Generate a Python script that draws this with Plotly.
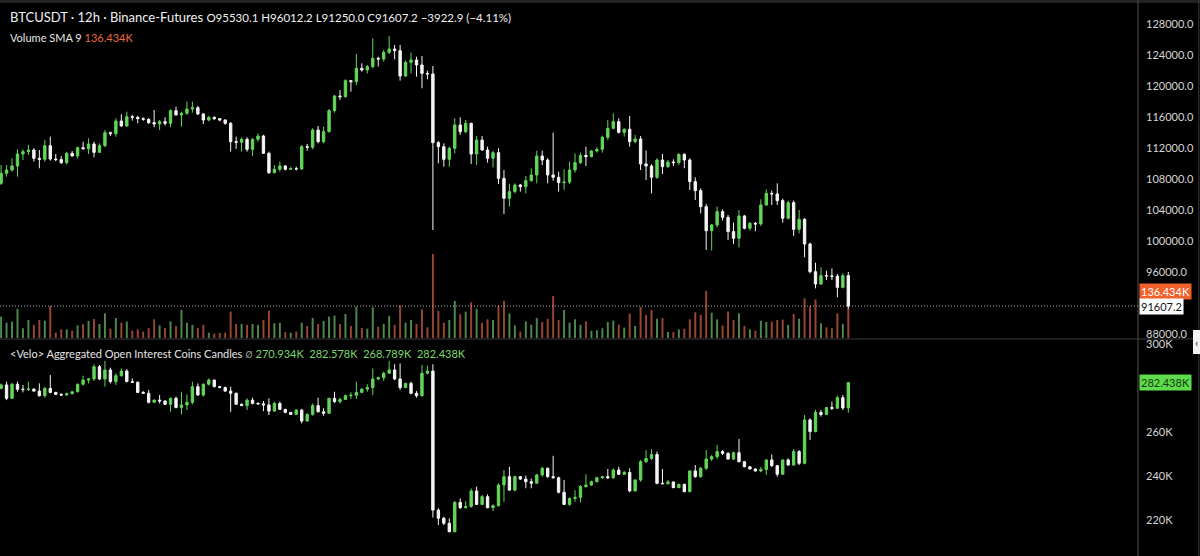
import plotly.graph_objects as go

# BTCUSDT 12h candles (open of each bar = previous close)
first_open = 107440
close = [
    108730, 109160, 109680, 111230, 111530, 111740, 110670, 110540, 112300, 110580,
    110500, 110110, 111310, 110970, 112040, 111900, 112520, 111440, 112300, 113980,
    113850, 115480, 114840, 116040, 115950, 115790, 115700, 115270, 115100, 115400,
    115180, 116820, 116260, 116470, 117030, 117200, 116390, 115610, 115960, 115790,
    115610, 115180, 112820, 112730, 113120, 111830, 113120, 113550, 111310, 108820,
    109250, 109680, 109250, 109340, 109300, 112170, 112090, 114320, 112820, 114110,
    116820, 118710, 118620, 120690, 120560, 122280, 122070, 122500, 123570, 123480,
    124340, 124770, 124560, 121290, 123050, 123360, 122710, 121630, 121550, 112690,
    112170, 110540, 111960, 114970, 114110, 115180, 111230, 113030, 111740, 110670,
    111400, 108090, 105510, 106370, 107230, 107010, 107790, 108520, 110970, 110450,
    108520, 108220, 107530, 107600, 109160, 110110, 111050, 110880, 111610, 111830,
    113380, 114540, 115400, 114020, 114410, 112820, 113160, 109940, 109680, 108220,
    110450, 109590, 110190, 110110, 111180, 110450, 107660, 106500, 104430, 101330,
    102070, 103790, 103050, 101210, 100350, 103230, 101640, 102280, 102200, 104650,
    106150, 106070, 105210, 102930, 104950, 101510, 102800, 99610, 96040, 94450,
    95530, 95500, 95450, 94020, 95530.1, 91607.2,
]
high = [
    109810, 109810, 110670, 111830, 111830, 112390, 111960, 111740, 113030, 113460,
    111230, 110970, 111500, 111610, 112170, 112820, 113250, 112820, 112600, 114320,
    114110, 115830, 116350, 116690, 116260, 116130, 115950, 115830, 116900, 115610,
    115960, 116990, 117330, 116690, 117980, 117980, 117420, 116480, 116130, 116050,
    115870, 115700, 115350, 113460, 113380, 113380, 113250, 113890, 113700, 111530,
    109810, 110240, 109800, 109590, 109590, 112390, 112520, 114540, 114840, 114750,
    117030, 118840, 119480, 120860, 120780, 124130, 122930, 122710, 126150, 123790,
    124640, 126450, 125290, 125290, 123270, 124300, 123790, 123870, 121980, 122580,
    112900, 112600, 112170, 115830, 115960, 115610, 115270, 113550, 113550, 112170,
    111660, 111960, 109160, 107360, 107440, 107360, 108390, 109380, 111660, 111660,
    110670, 113980, 108950, 109240, 110240, 111310, 111400, 112170, 111740, 112100,
    113600, 115610, 116470, 115830, 114540, 116130, 113680, 113550, 111660, 109900,
    110670, 111230, 110450, 110540, 111310, 111310, 110670, 108220, 106800, 104780,
    102200, 104430, 104090, 103360, 102370, 104000, 103360, 102460, 102450, 105380,
    106670, 106500, 107440, 105460, 105210, 105210, 104000, 102940, 99790, 97200,
    96600, 96170, 96470, 95750, 95830, 96012.2,
]
low = [
    107230, 108300, 108950, 108300, 110450, 111100, 110240, 109380, 110240, 110370,
    110300, 109940, 109900, 110900, 110670, 111830, 111230, 110800, 111400, 112090,
    113550, 113460, 114750, 114750, 115530, 115180, 115500, 115100, 114670, 114320,
    114880, 114670, 116220, 114750, 116260, 116560, 116260, 115100, 115440, 115600,
    115450, 115000, 111530, 111870, 111530, 111530, 110970, 112820, 111230, 108650,
    108700, 108950, 109100, 109200, 109100, 109160, 111650, 111830, 112600, 112600,
    113980, 116560, 118190, 118500, 119270, 120130, 121850, 121630, 122280, 122500,
    123140, 124130, 123440, 120690, 121200, 121630, 121200, 119700, 120860, 101420,
    110020, 109590, 109590, 111310, 113680, 113890, 109940, 109810, 111650, 110110,
    109510, 107360, 103480, 104430, 106150, 106370, 106150, 107650, 107440, 109810,
    107440, 107780, 106370, 106590, 107360, 108820, 109940, 109680, 110800, 111400,
    111400, 113030, 114410, 113890, 113460, 112170, 112600, 109160, 107870, 106150,
    108000, 108650, 109450, 109680, 109810, 109380, 106580, 105290, 103570, 98840,
    98760, 101760, 102630, 100130, 99610, 99180, 101500, 101330, 101250, 101930,
    104520, 104650, 104650, 102370, 102800, 100650, 100990, 97890, 95830, 93890,
    94320, 94970, 94970, 92730, 93890, 91250.0,
]
# volume in thousands
volume_k = [
    96, 69, 74, 131, 44, 81, 59, 81, 78, 144,
    24, 39, 39, 33, 57, 62, 77, 86, 63, 111,
    42, 90, 69, 74, 33, 39, 29, 44, 84, 57,
    45, 75, 54, 126, 69, 59, 45, 59, 24, 20,
    23, 24, 119, 63, 63, 59, 63, 59, 81, 123,
    66, 69, 26, 24, 29, 69, 54, 90, 63, 77,
    96, 101, 63, 108, 54, 141, 45, 42, 138, 51,
    63, 99, 59, 147, 69, 81, 63, 129, 48, 378,
    122, 69, 81, 167, 107, 119, 161, 132, 69, 84,
    81, 146, 167, 111, 57, 29, 75, 60, 90, 72,
    86, 189, 81, 126, 69, 84, 60, 75, 33, 35,
    44, 72, 78, 60, 47, 110, 54, 140, 104, 126,
    87, 90, 27, 27, 39, 42, 84, 116, 105, 212,
    114, 84, 56, 119, 81, 111, 54, 39, 33, 78,
    72, 74, 81, 83, 59, 108, 87, 179, 144, 174,
    66, 48, 44, 111, 63, 136.434,
]

# aggregated open interest candles, thousands of coins
oi_first_open = 279.8
oi_close = [
    281.4, 275.3, 281.7, 279.4, 279.3, 279.5, 278.6, 276.5, 279.8, 278.0,
    277.1, 276.8, 277.4, 278.3, 281.7, 283.6, 284.1, 289.7, 284.1, 288.2,
    282.9, 285.6, 287.7, 282.9, 282.6, 278.0, 277.6, 273.5, 274.5, 274.1,
    272.6, 275.3, 271.1, 272.3, 273.5, 280.6, 276.8, 281.7, 283.6, 280.6,
    280.2, 278.6, 277.6, 272.6, 272.0, 274.5, 273.0, 272.8, 272.3, 269.5,
    273.0, 270.3, 268.9, 268.0, 270.0, 265.0, 268.0, 272.0, 269.2, 268.5,
    275.3, 273.8, 274.8, 276.5, 276.7, 278.0, 279.5, 280.2, 284.1, 284.7,
    286.7, 288.2, 284.1, 280.2, 282.1, 277.6, 276.5, 286.7, 287.7, 224.5,
    220.8, 218.5, 214.7, 228.0, 225.6, 226.1, 233.2, 227.1, 230.6, 225.6,
    226.5, 235.9, 239.7, 233.6, 239.7, 238.6, 237.4, 236.7, 240.5, 243.5,
    239.7, 239.2, 232.6, 227.1, 229.8, 230.3, 235.2, 235.9, 237.4, 239.2,
    239.7, 239.2, 242.7, 240.8, 241.6, 233.2, 238.2, 246.5, 248.0, 249.8,
    236.7, 236.5, 237.3, 234.7, 236.2, 232.9, 242.3, 239.7, 243.5, 247.7,
    248.8, 251.1, 250.3, 247.7, 250.6, 246.5, 244.2, 243.2, 242.3, 243.0,
    247.3, 244.7, 240.8, 247.3, 245.0, 251.1, 245.8, 265.5, 260.2, 268.9,
    268.0, 271.1, 270.8, 275.6, 270.934, 282.438,
]
oi_high = [
    282.0, 282.9, 282.4, 282.9, 281.4, 282.9, 279.8, 282.1, 280.6, 285.9,
    278.3, 277.6, 277.9, 278.6, 282.0, 285.6, 284.5, 290.8, 290.5, 292.3,
    289.2, 286.7, 288.9, 288.6, 284.4, 283.0, 278.6, 279.1, 274.8, 276.8,
    274.5, 275.6, 276.1, 278.3, 277.1, 282.9, 282.1, 282.1, 284.4, 283.8,
    281.0, 280.6, 280.6, 277.9, 273.0, 275.3, 275.6, 273.5, 274.1, 275.3,
    273.8, 273.8, 270.5, 269.0, 270.3, 270.5, 268.5, 273.0, 275.6, 270.8,
    275.6, 278.3, 275.6, 277.0, 278.0, 282.9, 279.8, 281.7, 288.9, 285.1,
    287.4, 292.3, 290.8, 291.2, 282.4, 282.9, 278.6, 290.5, 290.2, 290.8,
    225.3, 221.5, 220.8, 228.6, 229.8, 228.6, 234.4, 235.2, 231.4, 231.7,
    227.1, 236.7, 242.7, 244.2, 240.2, 240.0, 240.2, 238.9, 241.0, 244.2,
    243.8, 249.2, 239.7, 238.2, 230.2, 233.6, 235.9, 240.8, 237.9, 239.6,
    240.0, 243.2, 243.5, 244.2, 242.3, 243.5, 238.5, 247.3, 251.8, 252.3,
    251.1, 243.2, 238.2, 237.4, 236.5, 236.5, 242.5, 245.0, 244.2, 251.8,
    249.5, 254.1, 251.8, 250.8, 251.1, 256.8, 246.8, 244.5, 243.5, 244.2,
    247.7, 249.8, 245.0, 247.5, 248.0, 252.3, 251.8, 267.7, 266.2, 270.0,
    270.0, 271.4, 273.8, 276.5, 276.8, 282.578,
]
oi_low = [
    279.5, 274.5, 275.0, 278.3, 278.0, 278.6, 278.3, 276.1, 275.6, 277.6,
    276.8, 276.4, 276.7, 277.1, 278.0, 281.1, 282.1, 283.2, 283.6, 280.6,
    282.1, 281.4, 285.2, 282.6, 282.5, 277.8, 277.3, 273.0, 273.2, 273.0,
    272.3, 269.2, 270.8, 268.0, 270.0, 272.6, 276.5, 276.1, 281.1, 280.3,
    279.9, 278.3, 269.2, 272.3, 271.8, 270.0, 272.6, 272.5, 269.5, 267.7,
    269.2, 270.0, 268.6, 267.7, 267.7, 263.9, 264.7, 267.4, 268.9, 267.4,
    268.2, 273.3, 273.0, 274.5, 275.0, 275.0, 277.6, 278.3, 276.8, 283.6,
    283.2, 286.4, 283.6, 279.1, 279.9, 277.1, 275.6, 276.1, 286.2, 221.1,
    217.7, 217.7, 214.4, 214.4, 225.0, 225.2, 225.6, 226.8, 226.8, 225.3,
    224.1, 226.1, 228.3, 233.2, 233.0, 238.2, 234.4, 234.4, 236.5, 239.7,
    239.2, 238.9, 232.1, 226.8, 226.5, 228.3, 228.0, 234.7, 235.6, 237.1,
    238.6, 238.6, 238.6, 240.5, 240.6, 232.6, 233.0, 237.4, 245.8, 247.3,
    236.2, 236.2, 236.2, 234.5, 234.5, 232.6, 232.6, 239.2, 239.2, 242.7,
    246.8, 247.7, 249.5, 247.5, 247.3, 246.2, 244.0, 243.0, 242.0, 241.7,
    240.5, 244.2, 239.7, 240.6, 244.7, 244.7, 245.0, 245.3, 256.4, 259.8,
    267.0, 267.8, 270.0, 270.5, 270.0, 268.789,
]

# scale labels that show on the right (92000 and 280K sit under the value tags)
price_ticks = [88000, 96000, 100000, 104000, 108000, 112000, 116000, 120000, 124000, 128000]
oi_ticks = [220, 240, 260, 300]
oi_tick_labels = ['220K', '240K', '260K', '300K']

# colours
GREEN = '#62d658'
WHITE = '#f6f6f6'
VOL_UP = 'rgba(98,170,98,0.8)'
VOL_DOWN = 'rgba(190,88,62,0.8)'
FONT = 'Lato, Inter, sans-serif'

W, H = 1200, 556
AXIS_X = 1138 / W
TOP_DOM = [1 - 338 / H, 1 - 8 / H]
BOT_DOM = [0, 1 - 340 / H]

idx = list(range(len(close)))
opens = [first_open] + close[:-1]
oi_open = [oi_first_open] + oi_close[:-1]
vol_colors = [VOL_UP if c >= o else VOL_DOWN for o, c in zip(opens, close)]

fig = go.Figure()

# volume sits underneath the price candles
fig.add_trace(go.Bar(
    x=idx, y=volume_k, marker_color=vol_colors, marker_line_width=0,
    width=0.36, xaxis='x', yaxis='y', hoverinfo='skip'
))

candle_style = dict(
    increasing=dict(line=dict(color=GREEN, width=1), fillcolor=GREEN),
    decreasing=dict(line=dict(color=WHITE, width=1), fillcolor=WHITE),
    whiskerwidth=0,
)

fig.add_trace(go.Candlestick(
    x=idx, open=opens, high=high, low=low, close=close,
    xaxis='x', yaxis='y3', name='BTCUSDT', **candle_style
))

fig.add_trace(go.Candlestick(
    x=idx, open=oi_open, high=oi_high, low=oi_low, close=oi_close,
    xaxis='x2', yaxis='y2', name='OI', **candle_style
))

axis_font = dict(family=FONT, size=11, color='#d6d6d6')

fig.update_layout(
    width=W, height=H,
    margin=dict(l=0, r=0, t=0, b=0, autoexpand=False),
    paper_bgcolor='#000000',
    plot_bgcolor='#000000',
    showlegend=False,
    boxgap=0.38,
    font=dict(family=FONT, color='#e6e6e6'),
    xaxis=dict(
        domain=[0, AXIS_X], range=[-0.2, 208], anchor='y', automargin=False,
        showgrid=False, zeroline=False, showticklabels=False,
        rangeslider=dict(visible=False)
    ),
    xaxis2=dict(
        domain=[0, AXIS_X], range=[-0.2, 208], anchor='y2', matches='x', automargin=False,
        showgrid=False, zeroline=False, showticklabels=False,
        rangeslider=dict(visible=False)
    ),
    yaxis=dict(
        domain=TOP_DOM, range=[0, 1485], visible=False, automargin=False
    ),
    yaxis3=dict(
        overlaying='y', side='right', anchor='x', automargin=False,
        range=[87484, 130064], tickvals=price_ticks, tickformat='.1f',
        showgrid=False, zeroline=False, ticks='', tickfont=axis_font,
        ticklabelstandoff=7
    ),
    yaxis2=dict(
        domain=BOT_DOM, side='right', anchor='x2', automargin=False,
        range=[203.64, 301.82], tickvals=oi_ticks, ticktext=oi_tick_labels,
        showgrid=False, zeroline=False, ticks='', tickfont=axis_font,
        ticklabelstandoff=7
    ),
)

# frame lines, last-price dotted line, little side tab
fig.add_shape(type='rect', xref='paper', yref='paper', x0=0, x1=1,
              y0=1 - 3 / H, y1=1, fillcolor='#232323', line_width=0)
fig.add_shape(type='line', xref='paper', yref='paper', x0=AXIS_X, x1=AXIS_X,
              y0=0, y1=1, line=dict(color='#505050', width=1))
fig.add_shape(type='line', xref='paper', yref='paper', x0=0, x1=1,
              y0=1 - 339 / H, y1=1 - 339 / H, line=dict(color='#3c3c3c', width=1))
fig.add_shape(type='line', xref='paper', yref='paper', x0=0.999, x1=0.999,
              y0=0, y1=1, line=dict(color='#3a3a3a', width=1))
fig.add_shape(type='line', xref='paper', yref='y3', x0=0, x1=AXIS_X,
              y0=close[-1], y1=close[-1],
              line=dict(color='#b5b5b5', width=1, dash='1px,2px'))
fig.add_shape(type='rect', xref='paper', yref='paper', x0=1193 / W, x1=1,
              y0=1 - 354 / H, y1=1 - 330 / H, fillcolor='#f2f2f2', line_width=0)

annotations = [
    dict(x=8 / W, y=1 - 17 / H, xref='paper', yref='paper', xanchor='left', yanchor='middle',
         text=("BTCUSDT · 12h · Binance-Futures "
               "<span style='font-size:11.5px'>O95530.1 H96012.2 L91250.0 C91607.2 −3922.9 (−4.11%)</span>"),
         font=dict(family=FONT, size=13, color='#f0f0f0'), showarrow=False),
    dict(x=8 / W, y=1 - 37 / H, xref='paper', yref='paper', xanchor='left', yanchor='middle',
         text="Volume SMA 9 <span style='color:#ee6a40'>136.434K</span>",
         font=dict(family=FONT, size=11, color='#e6e6e6'), showarrow=False),
    dict(x=8 / W, y=1 - 353 / H, xref='paper', yref='paper', xanchor='left', yanchor='middle',
         text=("&lt;Velo&gt; Aggregated Open Interest Coins Candles "
               "<span style='color:#8c8c8c'>∅</span> "
               "<span style='color:#7ad86c'>270.934K  282.578K  268.789K  282.438K</span>"),
         font=dict(family=FONT, size=11, color='#e6e6e6'), showarrow=False),
    # last value tags on the price scale
    dict(x=AXIS_X + 1 / W, y=volume_k[-1], xref='paper', yref='y', yshift=16,
         xanchor='left', yanchor='middle', text='136.434K', showarrow=False,
         bgcolor='#f0622c', borderpad=1, font=dict(family=FONT, size=11, color='#ffffff')),
    dict(x=AXIS_X + 1 / W, y=close[-1], xref='paper', yref='y3',
         xanchor='left', yanchor='middle', text='91607.2', showarrow=False,
         bgcolor='#ffffff', borderpad=1, font=dict(family=FONT, size=11, color='#111111')),
    dict(x=AXIS_X + 1 / W, y=oi_close[-1], xref='paper', yref='y2',
         xanchor='left', yanchor='middle', text='282.438K', showarrow=False,
         bgcolor='#5fdc4b', borderpad=1, font=dict(family=FONT, size=11, color='#0f3b0f')),
    dict(x=1196.5 / W, y=1 - 342 / H, xref='paper', yref='paper',
         xanchor='center', yanchor='middle', text='‹', showarrow=False,
         font=dict(family=FONT, size=12, color='#333333')),
]
fig.update_layout(annotations=annotations)

# page margin off so the 1200x556 figure fills the window exactly
fig.write_html(
    "out.html",
    config={'displayModeBar': False},
    post_script="document.body.style.margin='0';document.body.style.background='#000';",
)
